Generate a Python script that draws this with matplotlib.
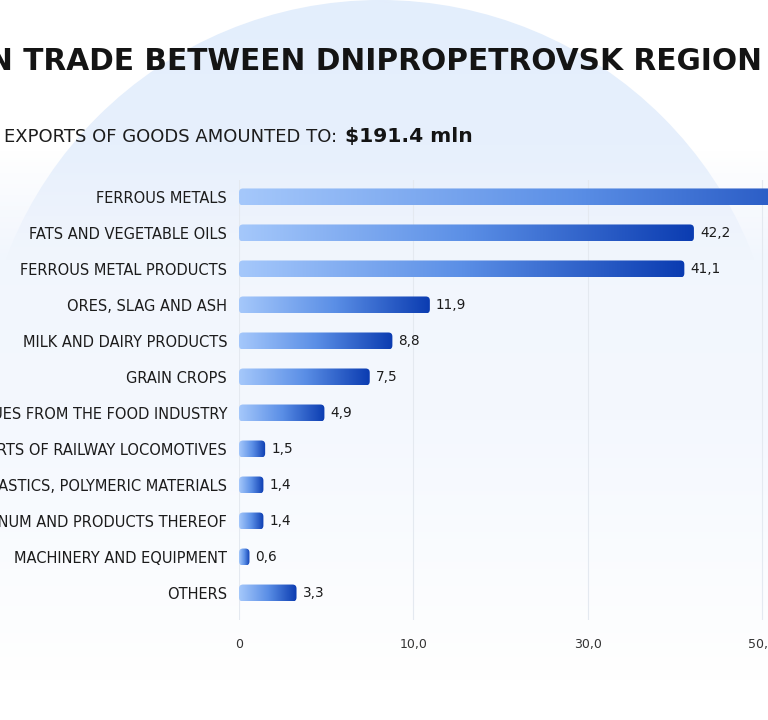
import numpy as np
import matplotlib
matplotlib.use("Agg")
import matplotlib.pyplot as plt
from matplotlib.patches import FancyBboxPatch, Circle
from matplotlib.colors import LinearSegmentedColormap, to_rgb

# data
categories = [
    "FERROUS METALS",
    "FATS AND VEGETABLE OILS",
    "FERROUS METAL PRODUCTS",
    "ORES, SLAG AND ASH",
    "MILK AND DAIRY PRODUCTS",
    "GRAIN CROPS",
    "RESIDUES FROM THE FOOD INDUSTRY",
    "PARTS OF RAILWAY LOCOMOTIVES",
    "PLASTICS, POLYMERIC MATERIALS",
    "ALUMINUM AND PRODUCTS THEREOF",
    "MACHINERY AND EQUIPMENT",
    "OTHERS",
]
values = [66.8, 42.2, 41.1, 11.9, 8.8, 7.5, 4.9, 1.5, 1.4, 1.4, 0.6, 3.3]
tick_values = [0, 10, 30, 50]
tick_labels = ["0", "10,0", "30,0", "50,0"]
title = "FOREIGN TRADE BETWEEN DNIPROPETROVSK REGION"
subtitle = "EXPORTS OF GOODS AMOUNTED TO:"
total = "\\$191.4 mln"

W, H = 768, 720
TEXT = "#1c1c1c"

# axis ticks 0,10,30,50 sit at equal steps
knots = [0, 10, 30, 50, 70, 90]
steps = [0, 1, 2, 3, 4, 5]


def fwd(x):
    return np.interp(x, knots, steps)


def inv(x):
    return np.interp(x, steps, knots)


fig = plt.figure(figsize=(W / 100, H / 100), dpi=100)
fig.patch.set_facecolor("white")

# background: pale circle, then a card that fades in over it
bg = fig.add_axes([0, 0, 1, 1], zorder=-2)
bg.set_xlim(0, W)
bg.set_ylim(H, 0)
bg.axis("off")
ramp = np.linspace(0, 1, 300).reshape(-1, 1)
bg_cmap = LinearSegmentedColormap.from_list(
    "bgc", [(0, "#e3eefc"), (0.4, "#ebf2fd"), (1, "#f6f9fe")])
img = bg.imshow(ramp, cmap=bg_cmap, aspect="auto", extent=[0, W, H, 0])
circ = Circle((380, 400), 400, transform=bg.transData)
img.set_clip_path(circ)

rows = np.arange(150, H)
top_c, mid_c, end_c = map(np.array, (to_rgb("#f0f5fd"), to_rgb("#f4f8fe"), to_rgb("#ffffff")))
card = np.ones((len(rows), 1, 4))
for k, r in enumerate(rows):
    if r < 420:
        t = (r - 150) / 270
        c = top_c + (mid_c - top_c) * t
    else:
        t = min((r - 420) / 260, 1)
        c = mid_c + (end_c - mid_c) * t
    card[k, 0, :3] = c
    card[k, 0, 3] = min(max((r - 150) / 110, 0), 1)
bg.imshow(card, aspect="auto", extent=[0, W, H, 150], interpolation="bilinear")

# main chart axes
ax = fig.add_axes([239 / W, (H - 620) / H, (W - 239) / W, 440 / H])
ax.set_facecolor("none")
ax.set_xscale("function", functions=(fwd, inv))
ax.set_autoscale_on(False)
ax.set_xlim(0, 50.7)
ax.set_ylim(11.75, -0.47)

y = np.arange(len(categories))
bars = ax.barh(y, values, height=0.47, color="none", edgecolor="none")

ax.set_xticks(tick_values)
ax.set_xticklabels(tick_labels)
ax.set_yticks(y)
ax.set_yticklabels(categories)
ax.tick_params(axis="x", length=0, pad=13, labelsize=9, labelcolor="#333333")
ax.tick_params(axis="y", length=0, pad=8.5, labelsize=10.5, labelcolor=TEXT)
ax.grid(axis="x", color="#e4e9f0", linewidth=0.8)
ax.set_axisbelow(True)
for s in ax.spines.values():
    s.set_visible(False)

for i, v in enumerate(values):
    ax.annotate(f"{v:.1f}".replace(".", ","), xy=(v, i), xytext=(6, 0),
                textcoords="offset pixels", ha="left", va="center",
                fontsize=9.8, color=TEXT)

# overlay in pixel units for gradient bars and headings
ov = fig.add_axes([0, 0, 1, 1], zorder=5)
ov.set_xlim(0, W)
ov.set_ylim(0, H)
ov.axis("off")
ov.patch.set_alpha(0)

ov.text(762, H - 70, title, ha="right", va="baseline", fontsize=21.3,
        fontweight="bold", color="#141414")
ov.text(337, H - 142, subtitle, ha="right", va="baseline", fontsize=13.0,
        color=TEXT)
ov.text(345, H - 142, total, ha="left", va="baseline", fontsize=14.6,
        fontweight="bold", color="#141414")

fig.canvas.draw()
renderer = fig.canvas.get_renderer()
bar_cmap = LinearSegmentedColormap.from_list("bar", ["#a5c8fb", "#5b8fe6", "#0b3cb1"])
grad = np.linspace(0, 1, 256).reshape(1, -1)
for b in bars:
    bb = b.get_window_extent(renderer)
    im = ov.imshow(grad, cmap=bar_cmap, aspect="auto",
                   extent=[bb.x0, bb.x1, bb.y0, bb.y1], interpolation="bilinear")
    shape = FancyBboxPatch((bb.x0, bb.y0), bb.width, bb.height,
                           boxstyle="round,pad=0,rounding_size=4",
                           transform=ov.transData, facecolor="none",
                           edgecolor="none")
    ov.add_patch(shape)
    im.set_clip_path(shape)
ov.set_xlim(0, W)
ov.set_ylim(0, H)

fig.savefig("out.png", dpi=100, facecolor=fig.get_facecolor())
